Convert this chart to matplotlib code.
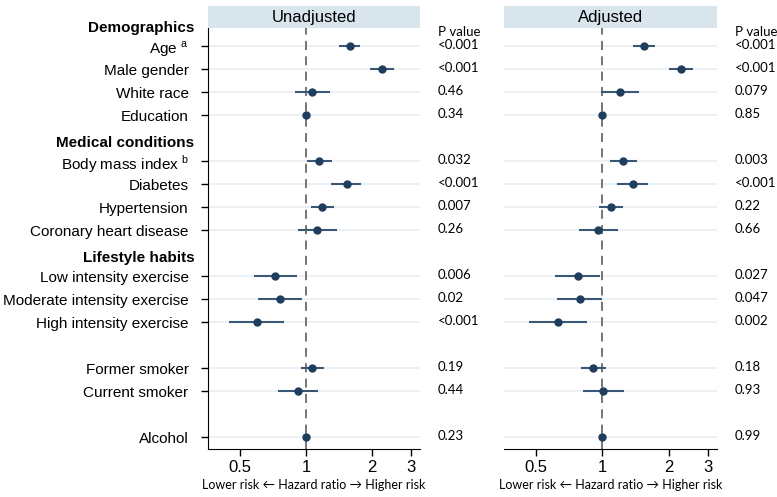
#!/usr/bin/env python3
"""
Forest plot: unadjusted and adjusted hazard ratios
"""

import numpy as np
import matplotlib.pyplot as plt

labels = ["Age $^{\\mathregular{a}}$", "Male gender", "White race", "Education",
          "Body mass index $^{\\mathregular{b}}$", "Diabetes", "Hypertension",
          "Coronary heart disease",
          "Low intensity exercise", "Moderate intensity exercise",
          "High intensity exercise",
          "Former smoker", "Current smoker", "Alcohol"]
rows = [1, 2, 3, 4, 6, 7, 8, 9, 11, 12, 13, 15, 16, 18]
headers = ["Demographics", "Medical conditions", "Lifestyle habits"]
header_rows = [0, 5, 10]

hr_unadj = [1.58, 2.22, 1.07, 1.00, 1.15, 1.53, 1.18, 1.12,
            0.725, 0.76, 0.595, 1.07, 0.92, 1.00]
lo_unadj = [1.42, 1.96, 0.894, 0.99, 1.01, 1.30, 1.05, 0.916,
            0.581, 0.606, 0.445, 0.949, 0.748, 0.995]
hi_unadj = [1.77, 2.51, 1.29, 1.01, 1.31, 1.79, 1.34, 1.38,
            0.907, 0.955, 0.797, 1.21, 1.13, 1.005]
p_unadj = ["<0.001", "<0.001", "0.46", "0.34", "0.032", "<0.001", "0.007",
           "0.26", "0.006", "0.02", "<0.001", "0.19", "0.44", "0.23"]

hr_adj = [1.54, 2.27, 1.20, 1.00, 1.24, 1.37, 1.09, 0.955,
          0.771, 0.79, 0.626, 0.91, 1.01, 1.00]
lo_adj = [1.37, 2.00, 0.98, 0.99, 1.08, 1.16, 0.96, 0.78,
          0.611, 0.624, 0.465, 0.80, 0.82, 0.995]
hi_adj = [1.73, 2.57, 1.46, 1.01, 1.44, 1.61, 1.24, 1.18,
          0.97, 1.00, 0.847, 1.04, 1.25, 1.005]
p_adj = ["<0.001", "<0.001", "0.079", "0.85", "0.003", "<0.001", "0.22",
         "0.66", "0.027", "0.047", "0.002", "0.18", "0.93", "0.99"]

panel_titles = ["Unadjusted", "Adjusted"]
xticks = [0.5, 1, 2, 3]

NAVY = "#1f3d5c"
LINE = "#3a5775"
GRID = "#e6edf2"
HEAD = "#d9e5ed"
SIDE = ["Lato", "DejaVu Sans"]


def draw_panel(fig, rect, title, hr, lo, hi, pvals, first):
    ax = fig.add_axes(rect)
    ax.set_xscale("log")
    ax.set_xlim(0.357, 3.31)
    ax.set_ylim(18.5, 0.22)
    for r in rows:
        ax.axhline(r, color=GRID, lw=1.2, zorder=0)
    ax.axvline(1, color="#6a6a6a", lw=1.3, ls=(0, (5, 3.5)), zorder=1)
    hr = np.array(hr)
    err = [hr - np.array(lo), np.array(hi) - hr]
    ax.errorbar(hr, rows, xerr=err, fmt="o", color=NAVY, ecolor=LINE,
                elinewidth=1.5, capsize=0, markersize=5, zorder=3)
    ax.set_xticks(xticks)
    ax.set_xticklabels(["0.5", "1", "2", "3"], fontsize=12,
                       family="Liberation Sans")
    ax.minorticks_off()
    ax.tick_params(axis="x", length=5, width=1, pad=3)
    ax.set_xlabel("Lower risk \u2190 Hazard ratio \u2192 Higher risk",
                  fontsize=9, family=SIDE, labelpad=3)
    for s in ["top", "right"]:
        ax.spines[s].set_visible(False)
    if first:
        ax.set_yticks(rows)
        ax.set_yticklabels(labels, fontsize=11, family="Liberation Sans")
        ax.tick_params(axis="y", length=5, width=1, pad=9)
        for h, r in zip(headers, header_rows):
            ax.text(-0.064, r + 0.2, h, transform=ax.get_yaxis_transform(),
                    ha="right", va="center", fontsize=11,
                    fontweight="bold", family="Liberation Sans")
    else:
        ax.spines["left"].set_visible(False)
        ax.set_yticks([])
    # p values column
    ax.text(1.085, 0.38, "P value", transform=ax.get_yaxis_transform(),
            ha="left", va="center", fontsize=9.5, family=SIDE)
    for p, r in zip(pvals, rows):
        ax.text(1.085, r - 0.05, p, transform=ax.get_yaxis_transform(),
                ha="left", va="center", fontsize=9.5, family=SIDE)
    # header strip
    hx = fig.add_axes([rect[0], rect[1] + rect[3], rect[2], 0.044])
    hx.set_facecolor(HEAD)
    hx.set_xticks([])
    hx.set_yticks([])
    for s in hx.spines.values():
        s.set_visible(False)
    hx.text(0.5, 0.5, title, ha="center", va="center", fontsize=12,
            family="Liberation Sans")
    return ax


def main():
    fig = plt.figure(figsize=(7.77, 4.97), dpi=100)
    draw_panel(fig, [0.2677, 0.0966, 0.2728, 0.847], panel_titles[0],
               hr_unadj, lo_unadj, hi_unadj, p_unadj, True)
    draw_panel(fig, [0.6486, 0.0966, 0.2741, 0.847], panel_titles[1],
               hr_adj, lo_adj, hi_adj, p_adj, False)
    fig.savefig("out.png", dpi=100)


if __name__ == "__main__":
    main()
